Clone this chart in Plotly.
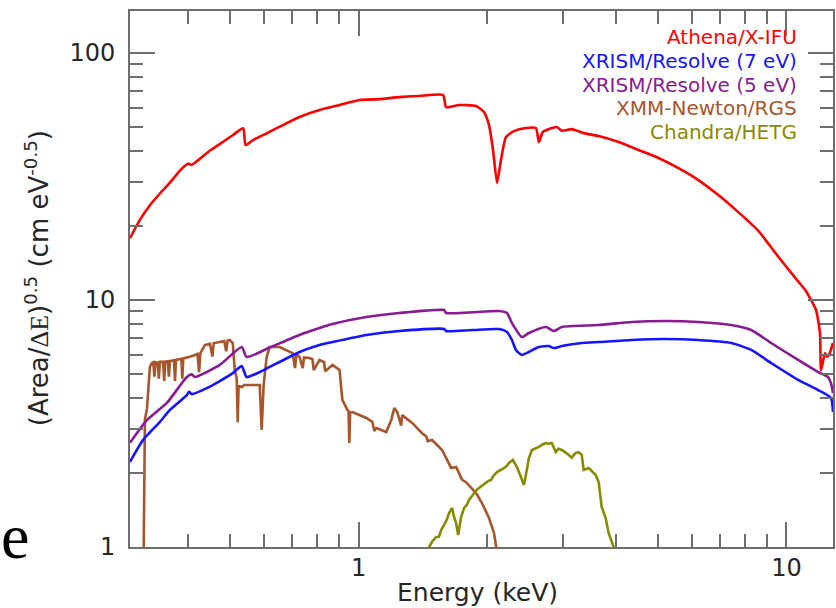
import math
import plotly.graph_objects as go

# ---------------- data ----------------
athena_e = [0.292, 0.308, 0.325, 0.343, 0.362, 0.382, 0.392, 0.3995, 0.4067, 0.4253, 0.449, 0.4734, 0.5085,
            0.537, 0.544, 0.566, 0.609, 0.665, 0.727, 0.810, 0.902, 1.004, 1.117, 1.244, 1.385, 1.575, 1.601,
            1.717, 1.881, 1.963, 2.017, 2.061, 2.106, 2.151, 2.210, 2.307, 2.460, 2.596, 2.638, 2.695, 2.905,
            2.985, 3.148, 3.358, 3.640, 4.053, 4.512, 5.023, 5.593, 6.226, 6.932, 7.717, 8.591, 9.565, 10.65,
            11.1, 11.42, 11.73, 11.98, 12.05, 12.31, 12.45, 12.58, 12.85]
athena_v = [17.8, 21.1, 24.2, 27.0, 29.9, 33.4, 34.9, 35.7, 35.2, 37.3, 40.3, 42.8, 46.6,
            49.6, 42.4, 44.4, 47.3, 51.1, 55.1, 58.8, 61.6, 64.5, 65.1, 66.3, 67.0, 67.6, 60.4,
            61.6, 61.0, 57.7, 51.1, 40.5, 29.8, 36.9, 45.7, 48.3, 49.7, 49.7, 43.6, 47.9, 50.2,
            48.5, 49.2, 47.4, 46.1, 43.6, 40.5, 37.6, 34.2, 30.6, 26.6, 22.7, 19.1, 15.0, 11.9,
            10.9, 10.0, 9.1, 7.35, 5.2, 6.1, 5.9, 6.0, 6.7]

res7_e = [0.292, 0.3132, 0.3430, 0.362, 0.3965, 0.401, 0.4074, 0.4416, 0.4734, 0.5077, 0.5327, 0.5472, 0.587,
          0.6191, 0.653, 0.727, 0.810, 0.8684, 1.042, 1.244, 1.584, 1.601, 1.841, 2.128, 2.222, 2.282, 2.332,
          2.407, 2.500, 2.638, 2.783, 2.859, 2.985, 3.322, 3.640, 4.345, 5.216, 6.226, 7.432, 8.275, 9.211,
          10.65, 11.86, 12.71, 12.85]
res7_v = [2.21, 2.71, 3.21, 3.59, 4.12, 4.25, 4.16, 4.40, 4.70, 5.06, 5.40, 4.88, 5.11,
          5.36, 5.61, 6.16, 6.58, 6.76, 7.22, 7.49, 7.63, 7.49, 7.56, 7.63, 7.42, 6.89, 6.28,
          5.99, 6.16, 6.45, 6.51, 6.39, 6.51, 6.70, 6.76, 6.89, 6.95, 6.89, 6.70, 6.28, 5.56,
          4.75, 4.32, 4.01, 3.52]

res5_e = [0.292, 0.320, 0.3561, 0.3965, 0.4074, 0.4140, 0.4734, 0.5327, 0.5472, 0.6191, 0.727, 0.810, 0.8684,
          1.042, 1.244, 1.584, 1.601, 2.128, 2.222, 2.282, 2.407, 2.500, 2.739, 2.859, 2.985, 3.640, 4.345,
          5.216, 6.226, 7.432, 8.275, 9.211, 10.65, 11.86, 12.51, 12.71, 12.85]
res5_v = [2.64, 3.27, 3.83, 4.88, 5.00, 4.88, 5.46, 6.45, 5.88, 6.42, 7.22, 7.70, 7.99,
          8.53, 8.86, 9.11, 8.86, 9.03, 8.86, 8.07, 7.08, 7.35, 7.78, 7.49, 7.78, 7.92, 8.15,
          8.22, 8.15, 7.92, 7.56, 6.70, 5.72, 5.11, 4.88, 4.61, 4.20]

rgs_e = [0.314, 0.3155, 0.3164, 0.320, 0.323, 0.325, 0.3287, 0.331, 0.333, 0.335, 0.339, 0.341, 0.343, 0.349,
         0.351, 0.353, 0.358, 0.360, 0.362, 0.370, 0.372, 0.374, 0.385, 0.387, 0.389, 0.3965, 0.410, 0.420,
         0.4235, 0.4265, 0.4369, 0.449, 0.455, 0.458, 0.4734, 0.485, 0.490, 0.494, 0.4995, 0.5077, 0.5131,
         0.5186, 0.5214, 0.524, 0.5327, 0.540, 0.555, 0.5712, 0.587, 0.5932, 0.5995, 0.6093, 0.6191, 0.653,
         0.6784, 0.7005, 0.710, 0.715, 0.727, 0.740, 0.745, 0.7675, 0.780, 0.785, 0.810, 0.830, 0.835, 0.8684,
         0.902, 0.916, 0.941, 0.947, 0.951, 0.955, 0.967, 1.042, 1.076, 1.088, 1.100, 1.160, 1.192, 1.211,
         1.231, 1.257, 1.264, 1.334, 1.407, 1.440, 1.450, 1.485, 1.567, 1.645, 1.690, 1.745, 1.782, 1.881,
         1.942, 2.017, 2.072, 2.106]
rgs_v = [0.8, 2.5, 3.27, 3.65, 4.6, 5.36, 5.56, 5.60, 4.9, 5.60, 5.58, 4.8, 5.62, 5.62,
         4.7, 5.63, 5.65, 4.9, 5.66, 5.70, 4.7, 5.72, 5.78, 4.8, 5.80, 5.85, 5.95, 6.05,
         5.1, 6.10, 6.57, 6.65, 5.9, 6.68, 6.76, 6.82, 6.2, 6.85, 6.89, 6.70, 5.21,
         4.83, 3.2, 4.5, 4.44, 4.53, 4.53, 4.53, 4.53, 2.98, 4.53, 5.88, 6.45, 6.45,
         6.28, 6.10, 5.3, 6.05, 5.88, 5.3, 5.85, 5.82, 5.75, 5.2, 5.72, 5.6, 5.15, 5.46,
         5.21, 3.94, 3.59, 3.55, 2.64, 3.50, 3.52, 3.33, 3.21, 2.95, 3.03, 2.92, 3.27, 3.65,
         3.52, 3.1, 3.42, 3.18, 2.89, 2.80, 2.68, 2.71, 2.47, 2.09, 2.11, 1.87, 1.83, 1.654,
         1.507, 1.31, 1.14, 0.95]

hetg_e = [1.45, 1.461, 1.49, 1.518, 1.54, 1.559, 1.584, 1.61, 1.627, 1.654, 1.670, 1.690, 1.708, 1.736,
          1.764, 1.790, 1.811, 1.835, 1.860, 1.885, 1.911, 1.950, 1.985, 2.010, 2.039, 2.070, 2.106, 2.140,
          2.186, 2.215, 2.245, 2.294, 2.320, 2.344, 2.395, 2.434, 2.460, 2.500, 2.541, 2.590, 2.638, 2.690,
          2.739, 2.780, 2.828, 2.889, 2.930, 2.985, 3.060, 3.148, 3.210, 3.269, 3.322, 3.358, 3.450, 3.582,
          3.640, 3.699, 3.779, 3.840, 3.903, 3.945, 3.96]
hetg_v = [0.95, 1.0, 1.06, 1.098, 1.10, 1.172, 1.228, 1.30, 1.373, 1.439, 1.33, 1.251, 1.118, 1.323,
          1.439, 1.48, 1.550, 1.60, 1.654, 1.70, 1.733, 1.78, 1.816, 1.85, 1.868, 1.95, 2.012, 2.04,
          2.088, 2.12, 2.188, 2.250, 2.18, 2.108, 1.920, 1.782, 1.956, 2.293, 2.470, 2.50, 2.541, 2.60,
          2.637, 2.62, 2.637, 2.424, 2.50, 2.470, 2.40, 2.30, 2.40, 2.42, 2.36, 2.05, 2.09, 1.956,
          1.833, 1.452, 1.31, 1.14, 1.048, 1.0, 0.95]

series_names = ["Athena/X-IFU", "XRISM/Resolve (7 eV)", "XRISM/Resolve (5 eV)", "XMM-Newton/RGS", "Chandra/HETG"]
series_colors = ["#ff0000", "#1414ff", "#8a1a94", "#a9552a", "#8a8a00"]
series_smooth = [True, True, True, False, False]

x_major = [1, 10]
x_minor = [0.4, 0.5, 0.6, 0.7, 0.8, 0.9, 2, 3, 4, 5, 6, 7, 8, 9]
y_major = [1, 10, 100]
y_minor = [2, 3, 4, 5, 6, 7, 8, 9, 20, 30, 40, 50, 60, 70, 80, 90]

x_range = [0.292, 12.85]
y_range = [1.0, 148.0]

# ---------------- figure ----------------
datasets = [(athena_e, athena_v), (res7_e, res7_v), (res5_e, res5_v), (rgs_e, rgs_v), (hetg_e, hetg_v)]
for (e, v) in datasets:
    assert len(e) == len(v)

fig = go.Figure()
order = [3, 4, 1, 2, 0]
for i in order:
    e, v = datasets[i]
    line = dict(color=series_colors[i], width=2.6)
    if series_smooth[i]:
        line.update(shape="spline", smoothing=0.55)
    fig.add_trace(go.Scatter(x=e, y=v, mode="lines", name=series_names[i], line=line,
                             showlegend=False, hoverinfo="skip"))

axis_col = "#6e6e6e"
tick_font = dict(family="DejaVu Sans", size=24, color="#262626")
common = dict(type="log", showgrid=False, zeroline=False, showline=True, linecolor=axis_col, linewidth=2,
              mirror="allticks", ticks="inside", ticklen=25, tickwidth=1.6, tickcolor=axis_col,
              tickfont=tick_font)

fig.update_layout(
    width=836, height=608,
    margin=dict(l=130, r=1, t=11, b=61),
    paper_bgcolor="white", plot_bgcolor="white",
    xaxis=dict(**common, range=[math.log10(x_range[0]), math.log10(x_range[1])],
               tickvals=x_major, ticktext=[str(t) for t in x_major], ticklabelstandoff=-2,
               minor=dict(tickvals=x_minor, ticks="inside", ticklen=13, tickwidth=1.6,
                          tickcolor=axis_col, showgrid=False)),
    yaxis=dict(**common, range=[math.log10(y_range[0]), math.log10(y_range[1])],
               tickvals=y_major, ticktext=[str(t) for t in y_major], ticklabelstandoff=8,
               minor=dict(tickvals=y_minor, ticks="inside", ticklen=13, tickwidth=1.6,
                          tickcolor=axis_col, showgrid=False)),
    showlegend=False,
)

plot_w, plot_h = 705.0, 536.0
def px_x(px):
    return (px - 130.0) / plot_w
def px_y(py):
    return (547.0 - py) / plot_h

annotations = []
legend_y = [37, 61, 85, 108, 132]
for name, col, yy in zip(series_names, series_colors, legend_y):
    annotations.append(dict(text=name, x=px_x(801), y=px_y(yy), xref="paper", yref="paper",
                            xanchor="right", yanchor="middle", showarrow=False,
                            font=dict(family="DejaVu Sans", size=20, color=col)))
annotations.append(dict(text="Energy (keV)", x=px_x(478), y=px_y(592), xref="paper", yref="paper",
                        xanchor="center", yanchor="middle", showarrow=False,
                        font=dict(family="DejaVu Sans", size=25, color="#262626")))
annotations.append(dict(text="(Area/<span style='font-family:Liberation Serif'>ΔE</span>)<sup>0.5</sup> (cm eV<sup>-0.5</sup>)",
                        x=px_x(37), y=px_y(278), xref="paper", yref="paper", textangle=-90,
                        xanchor="center", yanchor="middle", showarrow=False,
                        font=dict(family="DejaVu Sans", size=26, color="#262626")))
annotations.append(dict(text="e", x=px_x(-1), y=px_y(536), xref="paper", yref="paper",
                        xanchor="left", yanchor="middle", showarrow=False,
                        font=dict(family="Liberation Serif", size=64, color="#000000")))
fig.update_layout(annotations=annotations)

fig.write_html("out.html")
